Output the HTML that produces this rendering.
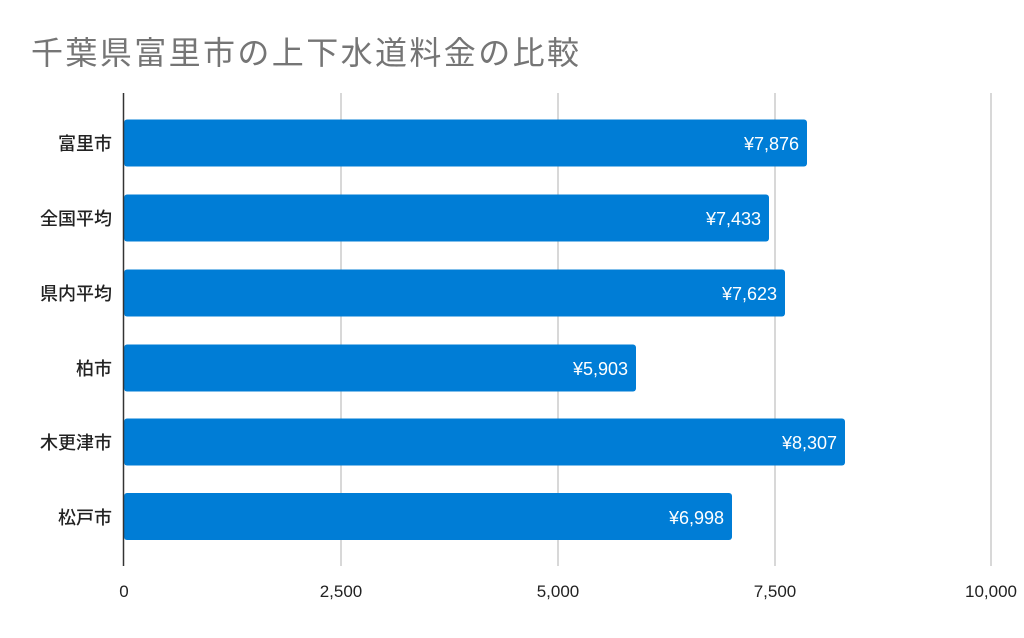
<!DOCTYPE html>
<html><head><meta charset="utf-8"><style>
body{margin:0;width:1024px;height:633px;background:#fff;overflow:hidden;font-family:"Liberation Sans","Noto Sans CJK JP",sans-serif;}
</style></head><body>
<svg width="1024" height="633" xmlns="http://www.w3.org/2000/svg" style="font-family:'Liberation Sans','Noto Sans CJK JP',sans-serif">
<text x="31" y="64" font-size="32" fill="#757575" letter-spacing="2.4">千葉県富里市の上下水道料金の比較</text>
<g stroke="#cccccc" stroke-width="1.5">
<line x1="341" y1="93" x2="341" y2="566"/>
<line x1="558" y1="93" x2="558" y2="566"/>
<line x1="775" y1="93" x2="775" y2="566"/>
<line x1="991" y1="93" x2="991" y2="566"/>
</g>
<g fill="#007dd6">
<rect x="124" y="119.5" width="683" height="47" rx="3"/>
<rect x="124" y="194.5" width="645" height="47" rx="3"/>
<rect x="124" y="269.5" width="661" height="47" rx="3"/>
<rect x="124" y="344.5" width="512" height="47" rx="3"/>
<rect x="124" y="418.5" width="721" height="47" rx="3"/>
<rect x="124" y="493" width="608" height="47" rx="3"/>
</g>
<line x1="123.5" y1="93" x2="123.5" y2="566" stroke="#333" stroke-width="1.5"/>
<g fill="#fff" font-size="18" text-anchor="end">
<text x="799" y="150">¥7,876</text>
<text x="761" y="225">¥7,433</text>
<text x="777" y="300">¥7,623</text>
<text x="628" y="375">¥5,903</text>
<text x="837" y="449">¥8,307</text>
<text x="724" y="524">¥6,998</text>
</g>
<g fill="#222" font-size="18" font-weight="500" text-anchor="end">
<text x="112" y="150">富里市</text>
<text x="112" y="225">全国平均</text>
<text x="112" y="300">県内平均</text>
<text x="112" y="375">柏市</text>
<text x="112" y="449">木更津市</text>
<text x="112" y="524">松戸市</text>
</g>
<g fill="#222" font-size="17" text-anchor="middle">
<text x="124" y="597">0</text>
<text x="341" y="597">2,500</text>
<text x="558" y="597">5,000</text>
<text x="775" y="597">7,500</text>
<text x="991" y="597">10,000</text>
</g>
</svg>
</body></html>
